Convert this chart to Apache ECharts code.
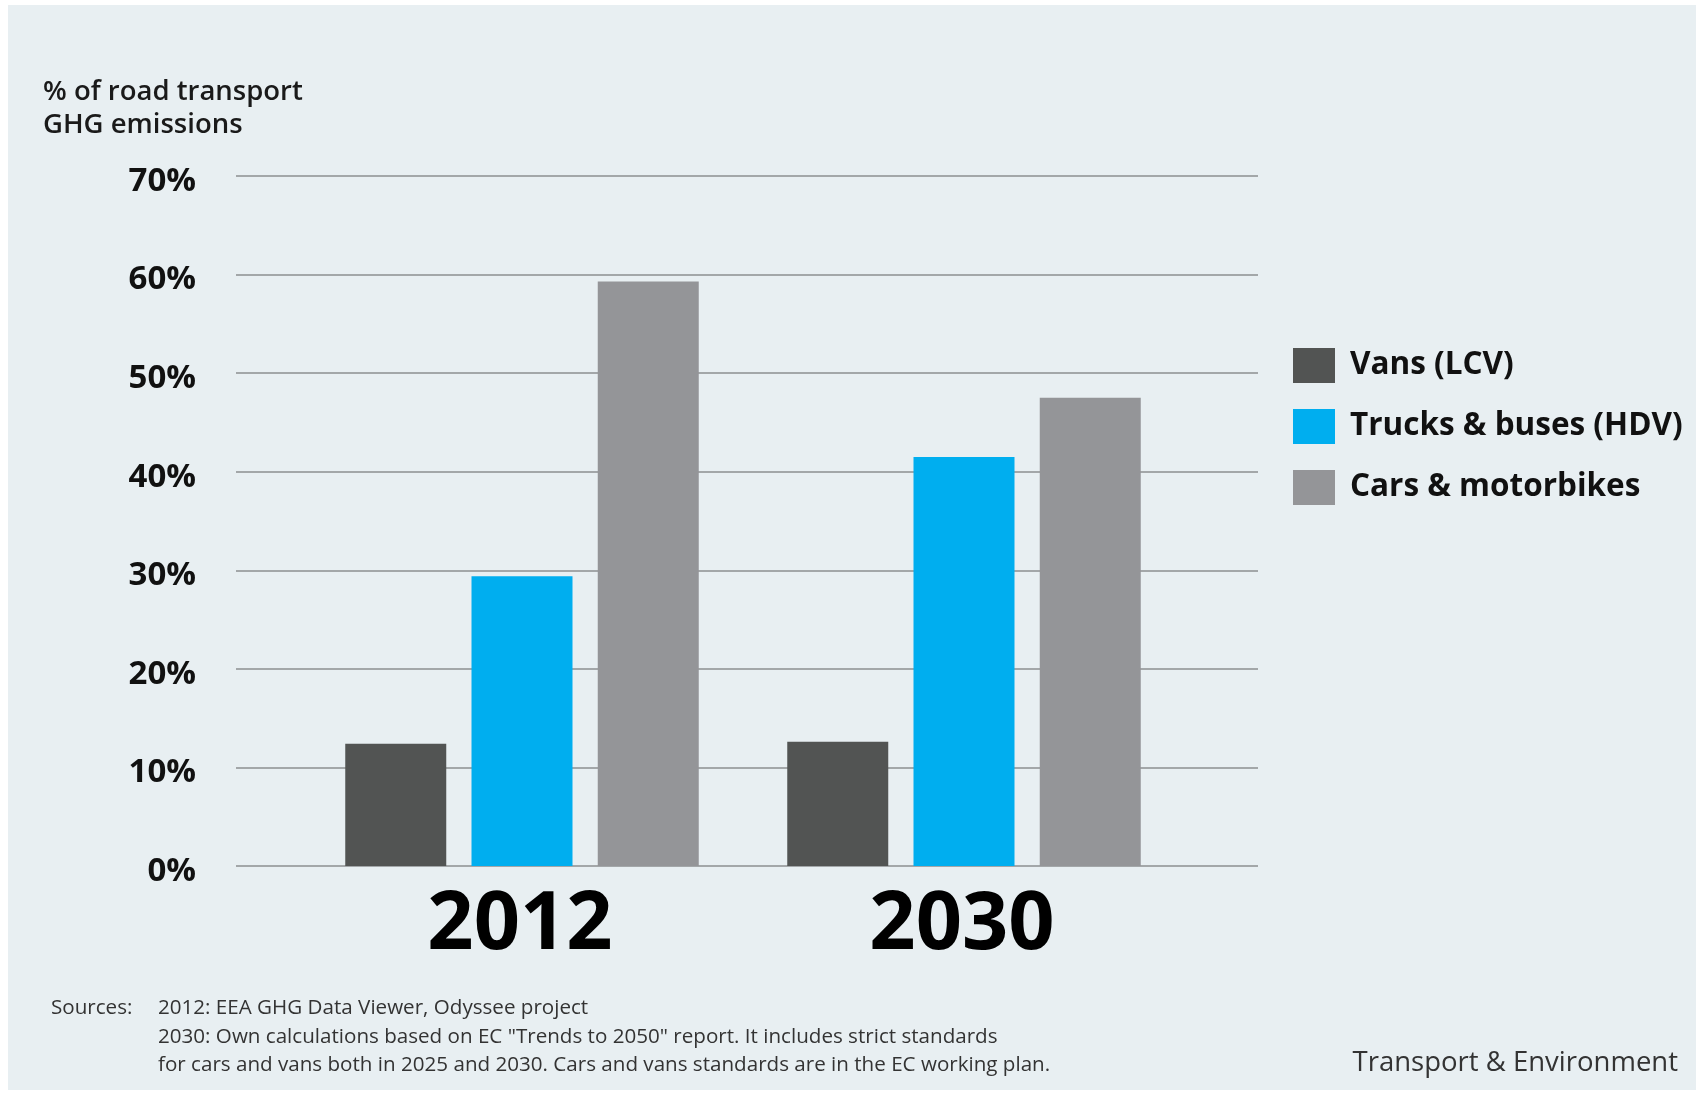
<!DOCTYPE html>
<html>
<head>
<meta charset="utf-8">
<script src="https://cdn.jsdelivr.net/npm/echarts@6/dist/echarts.min.js"></script>
<style>
  html, body { margin: 0; padding: 0; background: #ffffff; }
  #bg { position: absolute; left: 8px; top: 5px; width: 1688px; height: 1085px; background: #e8eff2; }
  #chart { position: absolute; left: 0; top: 0; width: 1696px; height: 1093px; }
</style>
</head>
<body>
<div id="bg"></div>
<div id="chart"></div>
<script>
const categories = ['2012', '2030'];
const seriesNames = ['Vans (LCV)', 'Trucks & buses (HDV)', 'Cars & motorbikes'];
const vansValues = [12.4, 12.6];
const trucksValues = [29.4, 41.5];
const carsValues = [59.3, 47.5];
const yTicks = { min: 0, max: 70, interval: 10 };
const axisTitleLines = ['% of road transport', 'GHG emissions'];
const sourceLabel = 'Sources:';
const sourceLines = [
  '2012: EEA GHG Data Viewer, Odyssee project',
  '2030: Own calculations based on EC "Trends to 2050" report. It includes strict standards',
  'for cars and vans both in 2025 and 2030. Cars and vans standards are in the EC working plan.'
];
const brand = 'Transport & Environment';

const colors = ['#525453', '#00aeef', '#949598'];
const FONT = '"Open Sans", sans-serif';
const NARROW = '"Liberation Sans Narrow", "Open Sans", sans-serif';

const chart = echarts.init(document.getElementById('chart'), null, { renderer: 'canvas' });

const values = [vansValues, trucksValues, carsValues];

const option = {
  backgroundColor: 'transparent',
  animation: false,
  textStyle: { fontFamily: FONT },
  grid: [
    { left: 236, right: 438, top: 176, bottom: 227, containLabel: false },
    { left: 301, right: 511, top: 176, bottom: 227, containLabel: false }
  ],
  xAxis: [
    { gridIndex: 0, type: 'value', show: false, min: 0, max: 1 },
    {
      gridIndex: 1, type: 'category', data: categories,
      axisLine: { show: false }, axisTick: { show: false },
      axisLabel: { fontSize: 81, fontWeight: 'bold', color: '#000', margin: 19, fontFamily: FONT, padding: [0, 4, 0, 0] }
    }
  ],
  yAxis: [
    {
      gridIndex: 0, type: 'value', min: yTicks.min, max: yTicks.max, interval: yTicks.interval,
      axisLine: { show: false }, axisTick: { show: false },
      axisLabel: { formatter: '{value}%', fontSize: 33, fontWeight: 'bold', color: '#111', margin: 40, fontFamily: FONT, verticalAlign: 'top', lineHeight: 11 },
      splitLine: { show: true, lineStyle: { color: '#a3a7a9', width: 2 } }
    },
    {
      gridIndex: 1, type: 'value', min: yTicks.min, max: yTicks.max, interval: yTicks.interval,
      show: false, splitLine: { show: false }
    }
  ],
  legend: {
    orient: 'vertical', left: 1293, top: 348, padding: 0,
    itemWidth: 42, itemHeight: 35, itemGap: 26, icon: 'rect',
    textStyle: { fontSize: 31.5, fontWeight: 'bold', color: '#111', fontFamily: FONT, padding: [0, 0, 0, 10] },
    data: seriesNames
  },
  series: seriesNames.map((name, i) => ({
    name: name, type: 'bar', xAxisIndex: 1, yAxisIndex: 1,
    data: values[i], barWidth: 101, barGap: '25%',
    itemStyle: { color: colors[i] }
  })),
  graphic: [
    { type: 'text', left: 43, top: 76, style: { text: axisTitleLines.join('\n'), fontSize: 27.5, fontWeight: 600, lineHeight: 33, fontFamily: FONT, fill: '#1a1a1a' } },
    { type: 'text', left: 51, top: 994, style: { text: sourceLabel, fontSize: 20.6, lineHeight: 28.5, fontFamily: NARROW, fill: '#333' } },
    { type: 'text', left: 158, top: 994, style: { text: sourceLines.join('\n'), fontSize: 20.6, lineHeight: 28.5, fontFamily: NARROW, fill: '#333' } },
    { type: 'text', right: 18, top: 1049, style: { text: brand, fontSize: 27.5, fontFamily: FONT, fill: '#333' } }
  ]
};

chart.setOption(option);
</script>
</body>
</html>
